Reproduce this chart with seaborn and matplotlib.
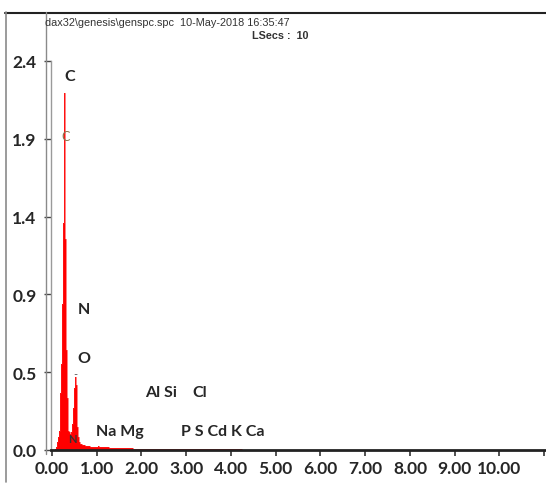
import numpy as np
import seaborn as sns
import matplotlib.pyplot as plt
from matplotlib.lines import Line2D

# EDS spectrum, energy in keV, counts scaled so the axis tops out at 2.4
energy_low = [0.00, 0.02, 0.04, 0.06, 0.08, 0.10, 0.12, 0.14, 0.16, 0.18,
              0.20, 0.22, 0.24, 0.26, 0.28, 0.30, 0.32, 0.34, 0.36, 0.38,
              0.40, 0.42, 0.44, 0.46, 0.48, 0.50, 0.52, 0.54, 0.56, 0.58,
              0.60, 0.62, 0.64, 0.66, 0.68, 0.70, 0.72, 0.74, 0.76, 0.78,
              0.80, 0.84, 0.88, 0.92, 0.96, 1.00, 1.04, 1.08, 1.12, 1.16]
counts_low = [0.0, 0.0, 0.0, 0.0, 0.005, 0.02, 0.05, 0.08, 0.12, 0.20,
              0.35, 0.53, 0.90, 1.40, 2.20, 1.30, 0.62, 0.32, 0.18, 0.12,
              0.11, 0.10, 0.11, 0.16, 0.26, 0.38, 0.45, 0.40, 0.27, 0.14,
              0.08, 0.05, 0.04, 0.035, 0.03, 0.03, 0.028, 0.026, 0.025, 0.024,
              0.023, 0.022, 0.021, 0.02, 0.02, 0.019, 0.022, 0.018, 0.017, 0.016]
energy_tail = [1.20, 1.25, 1.30, 1.40, 1.49, 1.60, 1.74, 1.90, 2.01, 2.15,
               2.31, 2.45, 2.62, 2.80, 3.00, 3.13, 3.31, 3.50, 3.69, 3.90,
               4.10, 4.40, 4.80, 5.20, 5.60, 6.00, 8.00, 11.0]
counts_tail = [0.016, 0.019, 0.014, 0.012, 0.013, 0.010, 0.011, 0.008, 0.009, 0.007,
               0.008, 0.006, 0.008, 0.005, 0.005, 0.007, 0.007, 0.004, 0.006, 0.004,
               0.004, 0.003, 0.003, 0.002, 0.002, 0.001, 0.0, 0.0]

energy = np.array(energy_low + energy_tail)
counts = np.array(counts_low + counts_tail)

# y ticks are evenly spaced, the printed labels are what the instrument shows
ytick_pos = [0.0, 0.48, 0.96, 1.44, 1.92, 2.40]
ytick_labels = ['0.0', '0.5', '0.9', '1.4', '1.9', '2.4']
xtick_pos = list(range(0, 12))
xtick_labels = ['0.00', '1.00', '2.00', '3.00', '4.00', '5.00',
                '6.00', '7.00', '8.00', '9.00', '10.00', '']

# element labels: (text, energy, height)
big_labels = [('C', 0.27, 2.31), ('N', 0.58, 0.87), ('O', 0.58, 0.57),
              ('Al Si', 2.08, 0.36), ('Cl', 3.13, 0.36),
              ('Na Mg', 0.98, 0.12), ('P S Cd K Ca', 2.88, 0.12)]

sns.set_style('white')
plt.rcParams['font.family'] = ['Lato', 'DejaVu Sans']

fig = plt.figure(figsize=(5.46, 4.85), dpi=100)
ax = fig.add_axes([51 / 546, 34 / 485, 1 - 51 / 546, 389 / 485])

ax.fill_between(energy, counts, step='mid', color='#ff0000', linewidth=0)
sns.lineplot(x=energy, y=counts, drawstyle='steps-mid', color='#ff2020',
             linewidth=0.4, ax=ax)

ax.set_xlim(-0.02, 11.04)
ax.set_ylim(0, 2.40)
ax.set_xticks(xtick_pos)
ax.set_xticklabels(xtick_labels, fontsize=12.5, fontweight='bold')
ax.set_yticks(ytick_pos)
ax.set_yticklabels(ytick_labels, fontsize=12.5, fontweight='bold')
ax.tick_params(axis='x', direction='out', length=4, width=1.2, color='#333333',
               pad=3, bottom=True)
ax.tick_params(axis='y', direction='out', length=5, width=1.0, color='#444444',
               pad=5.5, left=True)
for side in ['top', 'right']:
    ax.spines[side].set_visible(False)
ax.spines['left'].set_color('#9a9a9a')
ax.spines['left'].set_linewidth(1.0)
ax.spines['bottom'].set_color('#222222')
ax.spines['bottom'].set_linewidth(2.0)
ax.set_xlabel('')
ax.set_ylabel('')

for txt, ex, ey in big_labels:
    ax.text(ex, ey, txt, fontsize=11.5, fontweight='bold', ha='left', va='center')
ax.text(0.21, 1.94, 'C', fontsize=9, color='#8a7550', ha='left', va='center')
ax.text(0.36, 0.07, 'N', fontsize=8, fontweight='bold', color='#333333',
        ha='left', va='center')
ax.text(0.48, 0.47, '-', fontsize=8, color='#555555', ha='left', va='center')

# outer frame of the instrument printout
fig.add_artist(Line2D([5 / 546, 1], [1 - 13.5 / 485] * 2, color='#222222', lw=1.5))
fig.add_artist(Line2D([5.5 / 546] * 2, [1 - 13 / 485, 1 - 483 / 485],
                      color='#8a8a8a', lw=1.2))
fig.add_artist(Line2D([45.5 / 546] * 2, [1 - 13 / 485, 1 - 455 / 485],
                      color='#8a8a8a', lw=1.0))

fig.text(45 / 546, 1 - 23 / 485, 'dax32\\genesis\\genspc.spc  10-May-2018 16:35:47',
         fontsize=7.8, fontstretch='condensed',
         family=['Liberation Sans Narrow', 'Liberation Sans'],
         color='#333333', ha='left', va='center')
fig.text(252 / 546, 1 - 36 / 485, 'LSecs :  10', fontsize=7.8, fontweight='bold',
         fontstretch='condensed',
         family=['Liberation Sans Narrow', 'Liberation Sans'], color='#333333',
         ha='left', va='center')

plt.savefig('out.png', dpi=100)
